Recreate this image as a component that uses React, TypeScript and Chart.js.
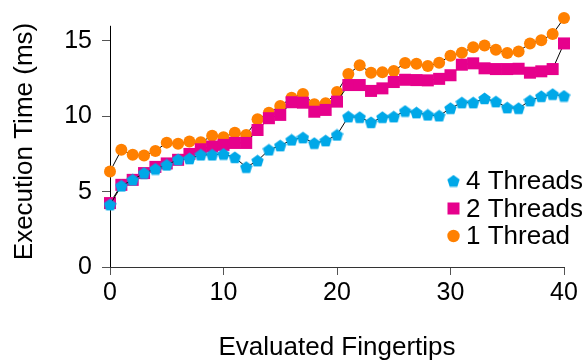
import React, { useEffect, useRef } from "react";
import { Chart, registerables } from "chart.js";

Chart.register(...registerables);

const X_VALUES = [0, 1, 2, 3, 4, 5, 6, 7, 8, 9, 10, 11, 12, 13, 14, 15, 16, 17, 18, 19, 20, 21, 22, 23, 24, 25, 26, 27, 28, 29, 30, 31, 32, 33, 34, 35, 36, 37, 38, 39, 40];

const THREADS_4 = [4.13, 5.38, 5.78, 6.23, 6.5, 6.77, 7.13, 7.19, 7.44, 7.44, 7.49, 7.27, 6.62, 7.05, 7.77, 8.05, 8.43, 8.58, 8.21, 8.38, 8.76, 9.97, 9.93, 9.59, 9.93, 9.97, 10.34, 10.24, 10.09, 10.03, 10.53, 10.9, 10.9, 11.18, 10.97, 10.57, 10.53, 11.03, 11.32, 11.46, 11.34];

const THREADS_2 = [4.24, 5.45, 5.78, 6.23, 6.64, 6.87, 7.11, 7.5, 7.81, 7.99, 8.1, 8.23, 8.23, 9.09, 9.87, 10.09, 10.93, 10.9, 10.3, 10.42, 10.97, 12.07, 12.07, 11.68, 11.85, 12.27, 12.42, 12.4, 12.38, 12.48, 12.72, 13.42, 13.51, 13.18, 13.13, 13.13, 13.15, 12.89, 12.98, 13.13, 14.83];

const THREAD_1 = [6.33, 7.77, 7.44, 7.39, 7.7, 8.25, 8.17, 8.32, 8.28, 8.7, 8.61, 8.91, 8.76, 9.8, 10.24, 10.68, 11.23, 11.48, 10.79, 10.86, 11.61, 12.8, 13.38, 12.89, 12.92, 13.0, 13.53, 13.48, 13.33, 13.55, 14.01, 14.21, 14.58, 14.69, 14.41, 14.19, 14.3, 14.83, 15.04, 15.45, 16.51];

const SERIES_LABELS = ["4 Threads", "2 Threads", "1 Thread"];
const Y_TICKS = [0, 5, 10, 15];
const X_TICKS = [0, 10, 20, 30, 40];
const Y_AXIS_TOP = 16;
const Y_RANGE_MAX = 16.65;

const BLUE = "rgb(0,168,232)";
const PINK = "rgb(230,0,140)";
const ORANGE = "rgb(255,128,0)";
const FONT = "'Liberation Sans', Arial, Helvetica, sans-serif";

function makePentagon(size: number, color: string): HTMLCanvasElement {
  const c = document.createElement("canvas");
  c.width = size;
  c.height = size;
  const ctx = c.getContext("2d")!;
  const r = size / 2;
  ctx.fillStyle = color;
  ctx.beginPath();
  for (let k = 0; k < 5; k++) {
    const a = -Math.PI / 2 + (k * 2 * Math.PI) / 5;
    const px = r + r * Math.cos(a);
    const py = r + 0.6 + r * Math.sin(a);
    if (k === 0) ctx.moveTo(px, py);
    else ctx.lineTo(px, py);
  }
  ctx.closePath();
  ctx.fill();
  return c;
}

export default function App() {
  const ref = useRef<HTMLCanvasElement | null>(null);

  useEffect(() => {
    if (!ref.current) return;
    const pent = makePentagon(13, BLUE);
    const toPts = (arr: number[]) => X_VALUES.map((x, i) => ({ x, y: arr[i] }));

    const axisPlugin = {
      id: "leftAxisLine",
      beforeDatasetsDraw(chart: any) {
        const { ctx, chartArea, scales } = chart;
        const yTop = scales.y.getPixelForValue(Y_AXIS_TOP);
        const yBot = scales.y.getPixelForValue(0);
        const x = Math.round(chartArea.left) + 0.5;
        ctx.save();
        ctx.strokeStyle = "#000";
        ctx.lineWidth = 1;
        ctx.beginPath();
        ctx.moveTo(x, yTop);
        ctx.lineTo(x, yBot);
        ctx.stroke();
        ctx.restore();
      },
    };

    const legendPlugin = {
      id: "insideLegend",
      afterDatasetsDraw(chart: any) {
        const { ctx, chartArea } = chart;
        const mx = chartArea.right - 110.5;
        const tx = chartArea.right - 98;
        const rows = [chartArea.bottom - 86, chartArea.bottom - 58.5, chartArea.bottom - 31];
        ctx.save();
        ctx.font = `26px ${FONT}`;
        ctx.textBaseline = "middle";
        ctx.textAlign = "left";
        ctx.drawImage(pent, mx - 6.5, rows[0] - 6.5);
        ctx.fillStyle = PINK;
        ctx.fillRect(mx - 6, rows[1] - 6, 12, 12);
        ctx.fillStyle = ORANGE;
        ctx.beginPath();
        ctx.arc(mx, rows[2], 6.2, 0, Math.PI * 2);
        ctx.fill();
        ctx.fillStyle = "#000";
        SERIES_LABELS.forEach((t, i) => ctx.fillText(t, tx, rows[i] + 1));
        ctx.restore();
      },
    };

    const chart = new Chart(ref.current, {
      type: "line",
      data: {
        datasets: [
          {
            label: SERIES_LABELS[0],
            data: toPts(THREADS_4),
            borderColor: "#000",
            borderWidth: 1,
            pointStyle: pent as any,
            pointRadius: 6,
            pointBackgroundColor: BLUE,
            pointBorderWidth: 0,
            clip: false as any,
          },
          {
            label: SERIES_LABELS[1],
            data: toPts(THREADS_2),
            borderColor: "#000",
            borderWidth: 1,
            pointStyle: "rect",
            pointRadius: 8.5,
            pointBackgroundColor: PINK,
            pointBorderColor: PINK,
            pointBorderWidth: 0,
            clip: false as any,
          },
          {
            label: SERIES_LABELS[2],
            data: toPts(THREAD_1),
            borderColor: "#000",
            borderWidth: 1,
            pointStyle: "circle",
            pointRadius: 6,
            pointBackgroundColor: ORANGE,
            pointBorderColor: ORANGE,
            pointBorderWidth: 0,
            clip: false as any,
          },
        ],
      },
      options: {
        animation: false,
        responsive: true,
        maintainAspectRatio: false,
        layout: { padding: { top: 16, right: 23, bottom: 0, left: 0 } },
        plugins: { legend: { display: false }, tooltip: { enabled: false } },
        elements: { line: { tension: 0 } },
        scales: {
          x: {
            type: "linear",
            min: 0,
            max: 40,
            afterBuildTicks: (s: any) => {
              s.ticks = X_TICKS.map((v) => ({ value: v }));
            },
            afterFit: (s: any) => {
              s.height = 94;
              s.paddingLeft = 0;
              s.paddingRight = 0;
            },
            ticks: { color: "#000", font: { size: 25, family: FONT }, padding: 3, maxRotation: 0 },
            grid: { drawOnChartArea: false, drawTicks: true, tickLength: 8, color: "#555" },
            border: { display: true, color: "#333", width: 1 },
            title: {
              display: true,
              text: "Evaluated Fingertips",
              color: "#000",
              font: { size: 26, family: FONT, lineHeight: 1.04 },
              padding: { top: 0, bottom: 0 },
            },
          },
          y: {
            type: "linear",
            min: 0,
            max: Y_RANGE_MAX,
            afterBuildTicks: (s: any) => {
              s.ticks = Y_TICKS.map((v) => ({ value: v }));
            },
            afterFit: (s: any) => {
              s.width = 110;
              s.paddingTop = 0;
              s.paddingBottom = 0;
            },
            ticks: { color: "#000", font: { size: 25, family: FONT }, padding: 10 },
            grid: { drawOnChartArea: false, drawTicks: true, tickLength: 8, color: "#555" },
            border: { display: false },
            title: {
              display: true,
              text: "Execution Time (ms)",
              color: "#000",
              font: { size: 26, family: FONT, lineHeight: 1.2 },
              padding: { top: 9.4, bottom: 0 },
            },
          },
        },
      },
      plugins: [axisPlugin, legendPlugin],
    });
    return () => chart.destroy();
  }, []);

  return (
    <div style={{ position: "fixed", left: 0, top: 0, width: 587, height: 361, background: "#fff" }}>
      <canvas ref={ref} />
    </div>
  );
}
